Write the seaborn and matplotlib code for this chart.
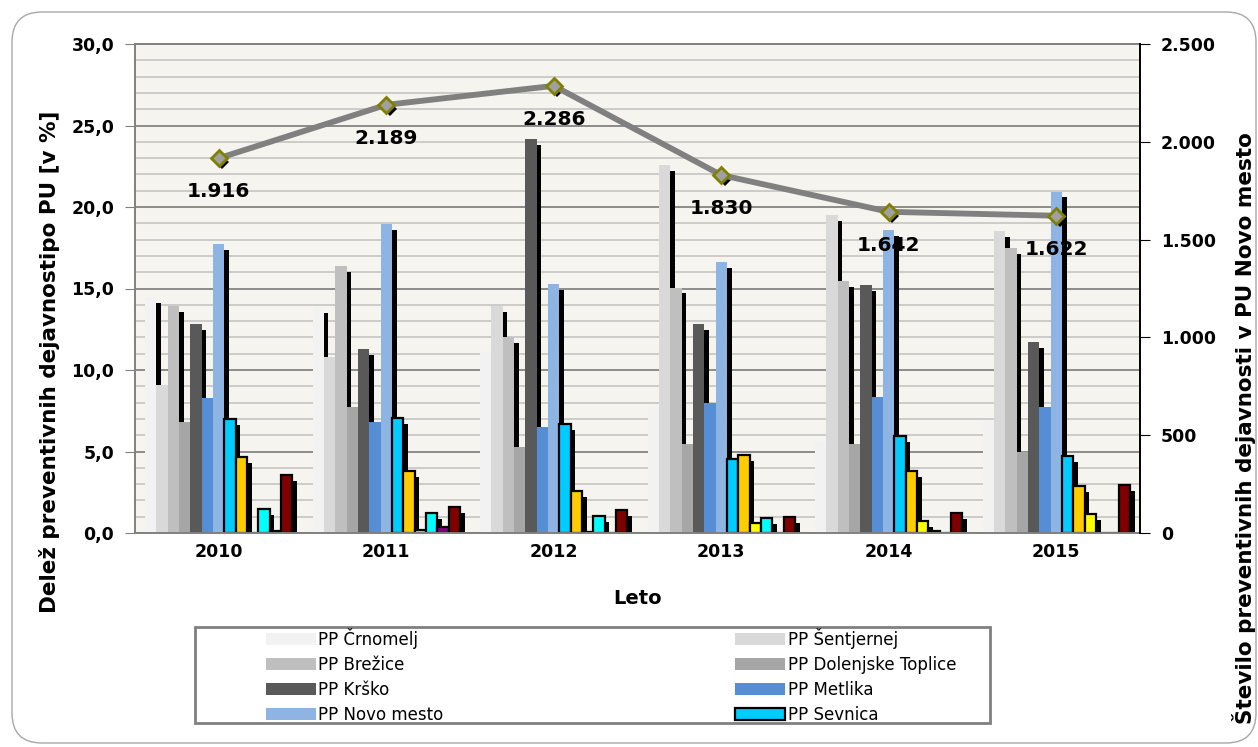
import numpy as np
import pandas as pd
import seaborn as sns
import matplotlib.pyplot as plt
import matplotlib.patheffects as pe
from matplotlib.patches import FancyBboxPatch, Rectangle, Patch
from matplotlib.ticker import FuncFormatter, MultipleLocator

years = ["2010", "2011", "2012", "2013", "2014", "2015"]

stations = ["PP Črnomelj", "PP Šentjernej", "PP Brežice", "PP Dolenjske Toplice",
            "PP Krško", "PP Metlika", "PP Novo mesto", "PP Sevnica",
            "PP Trebnje", "PPP Novo mesto", "PMP Obrežje", "PMP Dobova", "PMP Metlika"]
colors = ["#F2F2F2", "#D9D9D9", "#BFBFBF", "#A6A6A6", "#595959", "#558ED5", "#8EB4E3",
          "#00CCFF", "#FFCC00", "#FFFF00", "#00FFFF", "#800080", "#800000"]

# delez preventivnih dejavnosti po postajah [v %]
crnomelj = [14.5, 13.85, 11.1, 7.76, 5.67, 6.86]
sentjernej = [9.1, 10.8, 13.9, 22.55, 19.5, 18.55]
brezice = [13.9, 16.4, 12.0, 15.06, 15.43, 17.5]
dol_toplice = [6.8, 7.76, 5.27, 5.43, 5.47, 4.96]
krsko = [12.8, 11.3, 24.2, 12.8, 15.2, 11.7]
metlika = [8.3, 6.84, 6.5, 7.97, 8.33, 7.76]
novo_mesto = [17.7, 18.95, 15.25, 16.6, 18.6, 20.95]
sevnica = [7.0, 7.05, 6.7, 4.55, 5.94, 4.75]
trebnje = [4.65, 3.8, 2.55, 4.8, 3.8, 2.9]
ppp = [0.0, 0.2, 0.05, 0.62, 0.73, 1.18]
obrezje = [1.5, 1.24, 1.03, 0.93, 0.15, 0.0]
dobova = [0.1, 0.36, 0.0, 0.0, 0.0, 0.0]
pmp_metlika = [3.57, 1.58, 1.44, 0.97, 1.24, 2.97]

# stevilo preventivnih dejavnosti v PU Novo mesto
stevilo = [1916, 2189, 2286, 1830, 1642, 1622]

series = [crnomelj, sentjernej, brezice, dol_toplice, krsko, metlika, novo_mesto,
          sevnica, trebnje, ppp, obrezje, dobova, pmp_metlika]
rows = []
for name, vals in zip(stations, series):
    for y, v in zip(years, vals):
        rows.append({"Leto": y, "Postaja": name, "Delez": v})
df = pd.DataFrame(rows)

sns.set_style("white")
plt.rcParams["font.family"] = ["DejaVu Sans"]
plt.rcParams["text.color"] = "black"
plt.rcParams["axes.labelcolor"] = "black"
plt.rcParams["xtick.color"] = "black"
plt.rcParams["ytick.color"] = "black"

fig = plt.figure(figsize=(12.58, 7.47), dpi=100)
ax = fig.add_axes([135 / 1258, 1 - 533 / 747, 1005 / 1258, 489 / 747])
ax.set_facecolor("#F5F4EF")

sns.barplot(data=df, x="Leto", y="Delez", hue="Postaja", hue_order=stations,
            palette=colors, width=0.88, saturation=1, errorbar=None, legend=False, ax=ax)

shadow = [pe.SimplePatchShadow(offset=(3.3, -4.3), shadow_rgbFace="black", alpha=1), pe.Normal()]
for i, cont in enumerate(ax.containers):
    for bar in cont:
        bar.set_path_effects(shadow)
        if i >= 7:
            bar.set_edgecolor("black")
            bar.set_linewidth(1.6)
        else:
            bar.set_linewidth(0)

ax.set_xlim(-0.5, 5.5)
ax.set_ylim(0, 30)
ax.yaxis.set_major_locator(MultipleLocator(5))
ax.yaxis.set_minor_locator(MultipleLocator(1))
ax.yaxis.set_major_formatter(FuncFormatter(lambda v, p: f"{v:.1f}".replace(".", ",")))
ax.set_axisbelow(True)
ax.grid(which="major", axis="y", color="#8C8C8C", lw=1.4)
ax.grid(which="minor", axis="y", color="#C4C4C4", lw=1.2)
ax.set_xticks(np.arange(-0.5, 6, 1), minor=True)
ax.tick_params(axis="x", which="major", length=0, pad=7, labelsize=12.5)
ax.tick_params(axis="x", which="minor", length=6, color="#808080", direction="out")
ax.tick_params(axis="y", which="major", length=7, color="#808080", direction="out", labelsize=12.5, pad=8)
ax.tick_params(axis="y", which="minor", length=0)
for lab in ax.get_xticklabels() + ax.get_yticklabels():
    lab.set_fontweight("bold")
for s in ["left", "bottom", "top"]:
    ax.spines[s].set_color("#808080")
    ax.spines[s].set_linewidth(1.4)
ax.spines["right"].set_visible(False)
ax.set_xlabel("Leto", fontsize=14, fontweight="bold", labelpad=20)
ax.set_ylabel("")

# druga os: stevilo dejavnosti
ax2 = ax.twinx()
sns.pointplot(x=years, y=stevilo, ax=ax2, color="black", markers="D", linestyle="none",
              markersize=7, errorbar=None)
for ln in ax2.lines:
    ln.set_path_effects([pe.SimplePatchShadow(offset=(2.5, -3), shadow_rgbFace="black", alpha=1)])
n_sh = len(ax2.lines)
sns.pointplot(x=years, y=stevilo, ax=ax2, color="#808080", markers="D", linewidth=4.2,
              markersize=8.5, errorbar=None)
for ln in ax2.lines[n_sh:]:
    ln.set_markerfacecolor("#A0A0A0")
    ln.set_markeredgecolor("#808000")
    ln.set_markeredgewidth(2)
for i, v in enumerate(stevilo):
    ax2.annotate(f"{v:,}".replace(",", "."), xy=(i, v), xytext=(0, -24), textcoords="offset points",
                 ha="center", va="center", fontsize=14.5, fontweight="bold")

ax2.set_xlim(-0.5, 5.5)
ax2.set_ylim(0, 2500)
ax2.yaxis.set_major_locator(MultipleLocator(500))
ax2.yaxis.set_major_formatter(FuncFormatter(lambda v, p: f"{int(v):,}".replace(",", ".")))
ax2.tick_params(axis="y", length=7, color="black", direction="out", labelsize=12.5, pad=8)
for lab in ax2.get_yticklabels():
    lab.set_fontweight("bold")
for s in ["left", "bottom", "top"]:
    ax2.spines[s].set_visible(False)
ax2.spines["right"].set_color("black")
ax2.spines["right"].set_linewidth(1.4)
ax2.set_xlabel("")
ax2.set_ylabel("")
ax2.grid(False)

# naslova osi (v izvirniku nista centrirana na os)
fig.text(50 / 1258, 1 - 362 / 747, "Delež preventivnih dejavnostipo PU [v %]", rotation=90,
         ha="center", va="center", fontsize=15.5, fontweight="bold")
fig.text(1244 / 1258, 1 - 428 / 747, "Število preventivnih dejavnosti v PU Novo mesto", rotation=90,
         ha="center", va="center", fontsize=15.5, fontweight="bold")

# legenda (v izvirniku prikazanih samo prvih 8 postaj)
handles = []
for name, c in zip(stations[:8], colors[:8]):
    ec = "black" if name == "PP Sevnica" else "none"
    handles.append(Patch(facecolor=c, edgecolor=ec, linewidth=1.6, label=name))
order = [0, 2, 4, 6, 1, 3, 5, 7]
fig.legend([handles[k] for k in order], [stations[k] for k in order], ncol=2,
           loc="upper left", bbox_to_anchor=(266 / 1258, 1 - 628 / 747), frameon=False,
           fontsize=12, handlelength=3.0, handleheight=0.75, handletextpad=0.15,
           labelspacing=0.42, columnspacing=17.5, borderaxespad=0, borderpad=0)
fig.add_artist(Rectangle((195 / 1258, 1 - 723 / 747), 795 / 1258, 96 / 747,
                         transform=fig.transFigure, fill=False, edgecolor="#808080", linewidth=2))

fig.add_artist(FancyBboxPatch((0.12, 0.04), 12.44, 7.31, boxstyle="round,pad=0,rounding_size=0.3",
                              transform=fig.dpi_scale_trans, fill=False, edgecolor="#A8A8A8", linewidth=1))

fig.savefig("out.png", dpi=100)
